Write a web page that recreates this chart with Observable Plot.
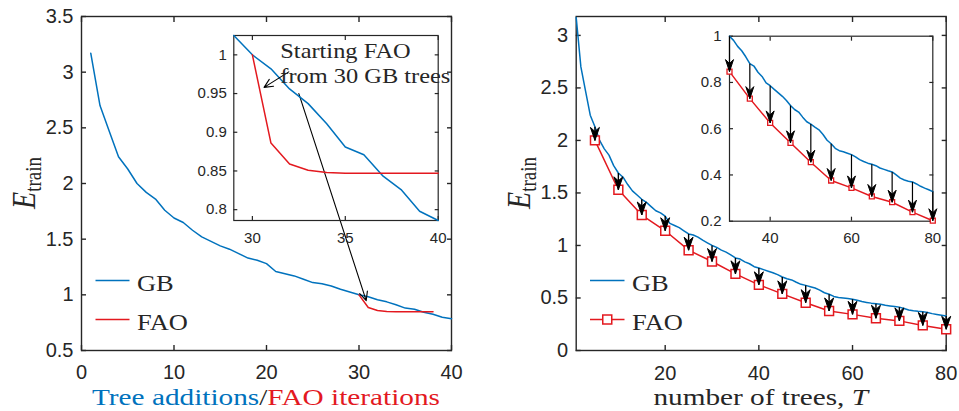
<!DOCTYPE html>
<html><head><meta charset="utf-8">
<script src="https://cdn.jsdelivr.net/npm/d3@7"></script>
<script src="https://cdn.jsdelivr.net/npm/@observablehq/plot@0.6"></script>
<style>
body{margin:0;background:#fff}
#wrap{position:relative;width:959px;height:411px;overflow:hidden;background:#fff}
#wrap svg{position:absolute}
</style></head><body><div id="wrap"></div>
<script>
// ---------------- data ----------------
const gbTrees = [1,2,3,4,5,6,7,8,9,10,11,12,13,14,15,16,17,18,19,20,21,22,23,24,25,26,27,28,29,30,31,32,33,34,35,36,37,38,39,40,41,42,43,44,45,46,47,48,49,50,51,52,53,54,55,56,57,58,59,60,61,62,63,64,65,66,67,68,69,70,71,72,73,74,75,76,77,78,79,80];
const gbErr = [3.17,2.70,2.47,2.24,2.13,2.00,1.92,1.86,1.76,1.69,1.65,1.58,1.52,1.48,1.44,1.41,1.37,1.33,1.31,1.28,1.21,1.19,1.17,1.14,1.11,1.10,1.08,1.05,1.025,1.00,0.982,0.956,0.937,0.911,0.881,0.871,0.844,0.826,0.798,0.786,0.770,0.755,0.740,0.722,0.700,0.683,0.672,0.650,0.630,0.620,0.607,0.595,0.575,0.550,0.535,0.515,0.505,0.500,0.494,0.488,0.478,0.466,0.458,0.451,0.446,0.440,0.430,0.424,0.418,0.413,0.400,0.386,0.378,0.373,0.370,0.361,0.351,0.343,0.336,0.328];
const faoIter = [30,31,32,33,34,35,36,37,38,39,40];
const faoIterErr = [1.00,0.886,0.859,0.851,0.848,0.847,0.847,0.847,0.847,0.847,0.847];
const faoTrees = [5,10,15,20,25,30,35,40,45,50,55,60,65,70,75,80];
const faoTreesErr = [2.00,1.53,1.29,1.14,0.955,0.847,0.73,0.625,0.539,0.455,0.376,0.344,0.307,0.282,0.239,0.202];
const leftXTicks = [0,10,20,30,40];
const leftYTicks = [0.5,1,1.5,2,2.5,3,3.5];
const leftInsetXTicks = [30,35,40];
const leftInsetYTicks = [0.8,0.85,0.9,0.95,1];
const rightXTicks = [20,40,60,80];
const rightYTicks = [0,0.5,1,1.5,2,2.5,3];
const rightInsetXTicks = [40,60,80];
const rightInsetYTicks = [0.2,0.4,0.6,0.8,1];
const annoLines = ["Starting FAO", "from 30 GB trees"];
const annoTextAt = {t: 31.53, e: 0.995};      // inset coords
const annoSmallArrow = {t1: 31.96, e1: 0.978, t2: 30.63, e2: 0.958}; // inset coords
const annoLongFrom = {t: 32.5, e: 0.95};      // inset coords
const annoLongTo = {t: 30.78, e: 0.948};      // main coords

// ---------------- style ----------------
const BLUE = "#0072BD", RED = "#E3191F", AX = "#262626";
const SANS = "'Liberation Sans', Arial, Helvetica, sans-serif";
const SERIF = "'Liberation Serif', 'DejaVu Serif', serif";
const SX = 1.22;

const gb = gbTrees.map((t, i) => ({t, e: gbErr[i]}));
const faoIt = faoIter.map((t, i) => ({t, e: faoIterErr[i]}));
const faoT = faoTrees.map((t, i) => ({t, e: faoTreesErr[i], g: gbErr[gbTrees.indexOf(t)]}));

const wrap = document.getElementById("wrap");
function place(svg, left, top) { svg.style.left = left + "px"; svg.style.top = top + "px"; wrap.appendChild(svg); return svg; }

function boxAxes(xt, yt, {tick, padX, padY, fs, sw}) {
  const c = {stroke: AX, strokeWidth: sw, label: null, tickSize: tick};
  return [
    Plot.axisY({...c, ticks: yt, anchor: "left", dx: tick, tickPadding: padY, fontSize: fs, tickFormat: d => String(d), fill: AX}),
    Plot.axisY({...c, ticks: yt, anchor: "right", dx: -tick, fill: "none"}),
    Plot.axisX({...c, ticks: xt, anchor: "bottom", dy: -tick, tickPadding: padX, fontSize: fs, tickFormat: d => String(d), fill: AX}),
    Plot.axisX({...c, ticks: xt, anchor: "top", dy: tick, fill: "none"}),
    Plot.frame({stroke: AX, strokeWidth: sw})
  ];
}
function head(w, h, notch) {
  return {draw(ctx) { ctx.moveTo(0, 0); ctx.lineTo(-w / 2, -h); ctx.lineTo(0, -h + notch); ctx.lineTo(w / 2, -h); ctx.closePath(); }};
}
const baseStyle = {background: "transparent", overflow: "visible", fontFamily: SANS, color: AX};
function serifText(sel, size, anchor) {
  return sel.append("text").attr("font-family", SERIF).style("font-family", SERIF).style("font-size", size + "px")
    .attr("text-anchor", anchor).attr("fill", AX);
}
// a line of differently styled runs, each its own <text>, laid out by measured width
function runs(g, parts, anchor) {
  const inner = g.append("g");
  let x = 0;
  parts.forEach(p => {
    const t = serifText(inner, p.size, "start").attr("x", x).attr("y", p.dy || 0).attr("fill", p.fill || AX).text(p.s);
    if (p.italic) t.style("font-style", "italic");
    x += t.node().getComputedTextLength();
  });
  if (anchor === "middle") inner.attr("transform", `translate(${-x / 2},0)`);
}

// ---------------- left inset ----------------
const LI = {left: 190, top: 25};
const gbLI = gb.filter(d => d.t >= 29 && d.t <= 40);
const leftInset = Plot.plot({
  width: 270, height: 230, marginLeft: 43.3, marginRight: 22.3, marginTop: 10, marginBottom: 35,
  x: {domain: [29, 40], label: null}, y: {domain: d3.extent(gbLI, d => d.e), label: null},
  style: baseStyle,
  marks: [
    ...boxAxes(leftInsetXTicks, leftInsetYTicks, {tick: 4, padX: 12, padY: 7, fs: 15, sw: 1.2}),
    Plot.line(gbLI, {x: "t", y: "e", stroke: BLUE, strokeWidth: 1.5}),
    Plot.line(faoIt, {x: "t", y: "e", stroke: RED, strokeWidth: 1.5}),
    Plot.arrow([annoSmallArrow], {x1: "t1", y1: "e1", x2: "t2", y2: "e2", stroke: "black", strokeWidth: 1.1, headLength: 13, headAngle: 50})
  ]
});

// ---------------- left main ----------------
const liX = leftInset.scale("x"), liY = leftInset.scale("y");
const lmX = Plot.scale({x: {domain: [0, 40], range: [81, 451]}});
const lmY = Plot.scale({y: {domain: [0.5, 3.5], range: [350, 16]}});
const longArrow = [{
  t1: lmX.invert(LI.left + liX.apply(annoLongFrom.t)), e1: lmY.invert(LI.top + liY.apply(annoLongFrom.e)),
  t2: annoLongTo.t, e2: annoLongTo.e
}];
const leftMain = Plot.plot({
  width: 480, height: 411, marginLeft: 81, marginRight: 29, marginTop: 16, marginBottom: 61,
  x: {domain: [0, 40], label: null}, y: {domain: [0.5, 3.5], label: null},
  style: baseStyle,
  marks: [
    ...boxAxes(leftXTicks, leftYTicks, {tick: 5, padX: 14, padY: 8, fs: 20, sw: 1.4}),
    Plot.line(gb.filter(d => d.t <= 40), {x: "t", y: "e", stroke: BLUE, strokeWidth: 1.5}),
    Plot.line(faoIt.filter(d => d.t <= 38), {x: "t", y: "e", stroke: RED, strokeWidth: 1.5}),
    Plot.arrow(longArrow, {x1: "t1", y1: "e1", x2: "t2", y2: "e2", stroke: "black", strokeWidth: 1.1, headLength: 13, headAngle: 50})
  ]
});
place(leftMain, 0, 0);
place(leftInset, LI.left, LI.top);
{
  const g = d3.select(leftInset).append("g")
    .attr("transform", `translate(${liX.apply(annoTextAt.t)},${liY.apply(annoTextAt.e)}) scale(${SX},1)`);
  annoLines.forEach((s, i) => serifText(g, 20, "start").attr("y", i * 25).text(s));
}

// ---------------- right main ----------------
const rightMain = Plot.plot({
  width: 479, height: 411, marginLeft: 95.7, marginRight: 13.3, marginTop: 16, marginBottom: 61,
  x: {domain: [1, 80], label: null}, y: {domain: [0, 3.18], label: null},
  style: baseStyle,
  marks: [
    ...boxAxes(rightXTicks, rightYTicks, {tick: 5, padX: 15, padY: 8, fs: 20, sw: 1.4}),
    Plot.line(gb, {x: "t", y: "e", stroke: BLUE, strokeWidth: 1.5}),
    Plot.line(faoT, {x: "t", y: "e", stroke: RED, strokeWidth: 1.5}),
    Plot.dot(faoT, {x: "t", y: "e", symbol: "square", r: 5, stroke: RED, strokeWidth: 1.5, fill: "white"}),
    Plot.link(faoT, {x1: "t", x2: "t", y1: "g", y2: "e", stroke: "black", strokeWidth: 1.4}),
    Plot.dot(faoT, {x: "t", y: "e", symbol: head(9, 13, 4), fill: "black", stroke: "black", strokeWidth: 1})
  ]
});
place(rightMain, 480, 0);

// ---------------- right inset ----------------
const riGB = gb.filter(d => d.t >= 30), riFao = faoT.filter(d => d.t >= 30);
const rightInset = Plot.plot({
  width: 279, height: 230, marginLeft: 49, marginRight: 26.7, marginTop: 10.7, marginBottom: 34.3,
  x: {domain: [30, 80], label: null}, y: {domain: [0.2, 1], label: null},
  style: baseStyle,
  marks: [
    ...boxAxes(rightInsetXTicks, rightInsetYTicks, {tick: 4, padX: 11, padY: 8, fs: 15, sw: 1.2}),
    Plot.line(riGB, {x: "t", y: "e", stroke: BLUE, strokeWidth: 1.5}),
    Plot.line(riFao, {x: "t", y: "e", stroke: RED, strokeWidth: 1.5}),
    Plot.dot(riFao, {x: "t", y: "e", symbol: "square", r: 2.8, stroke: RED, strokeWidth: 1.3, fill: "white"}),
    Plot.link(riFao, {x1: "t", x2: "t", y1: "g", y2: "e", stroke: "black", strokeWidth: 1.2}),
    Plot.dot(riFao, {x: "t", y: "e", symbol: head(8, 12, 4), fill: "black", stroke: "black", strokeWidth: 1})
  ]
});
place(rightInset, 680, 25);

// ---------------- labels & legends ----------------
function yLabel(svg, x, y) {
  const g = d3.select(svg).append("g").attr("transform", `translate(${x},${y}) scale(${SX},1) rotate(-90)`);
  runs(g, [{s: "E", size: 28, italic: true}, {s: "train", size: 19, dy: 5}], "middle");
}
yLabel(leftMain, 35, 183);
yLabel(rightMain, 50, 183);

runs(d3.select(leftMain).append("g").attr("transform", `translate(266,405) scale(${SX},1)`), [
  {s: "Tree additions", size: 24, fill: BLUE},
  {s: "/", size: 24, fill: AX},
  {s: "FAO iterations", size: 24, fill: RED}
], "middle");
runs(d3.select(rightMain).append("g").attr("transform", `translate(280.7,405) scale(${SX},1)`), [
  {s: "number of trees,\u00a0", size: 24},
  {s: "T", size: 24, italic: true}
], "middle");

function legend(svg, x0, x1, tx, items) {
  const s = d3.select(svg);
  items.forEach(it => {
    s.append("line").attr("x1", x0).attr("x2", x1).attr("y1", it.ly).attr("y2", it.ly)
      .attr("stroke", it.color).attr("stroke-width", 1.5);
    if (it.marker) s.append("rect").attr("x", (x0 + x1) / 2 - 4.5).attr("y", it.ly - 4.5).attr("width", 9).attr("height", 9)
      .attr("fill", "white").attr("stroke", it.color).attr("stroke-width", 1.5);
    const g = s.append("g").attr("transform", `translate(${tx},${it.by}) scale(1.15,1)`);
    serifText(g, 23, "start").text(it.label);
  });
}
legend(leftMain, 95.5, 129.5, 137, [
  {label: "GB", color: BLUE, ly: 280.5, by: 291},
  {label: "FAO", color: RED, ly: 319.5, by: 330}
]);
legend(rightMain, 110, 144.5, 152, [
  {label: "GB", color: BLUE, ly: 280.5, by: 291},
  {label: "FAO", color: RED, ly: 319.5, by: 330, marker: true}
]);
</script></body></html>
